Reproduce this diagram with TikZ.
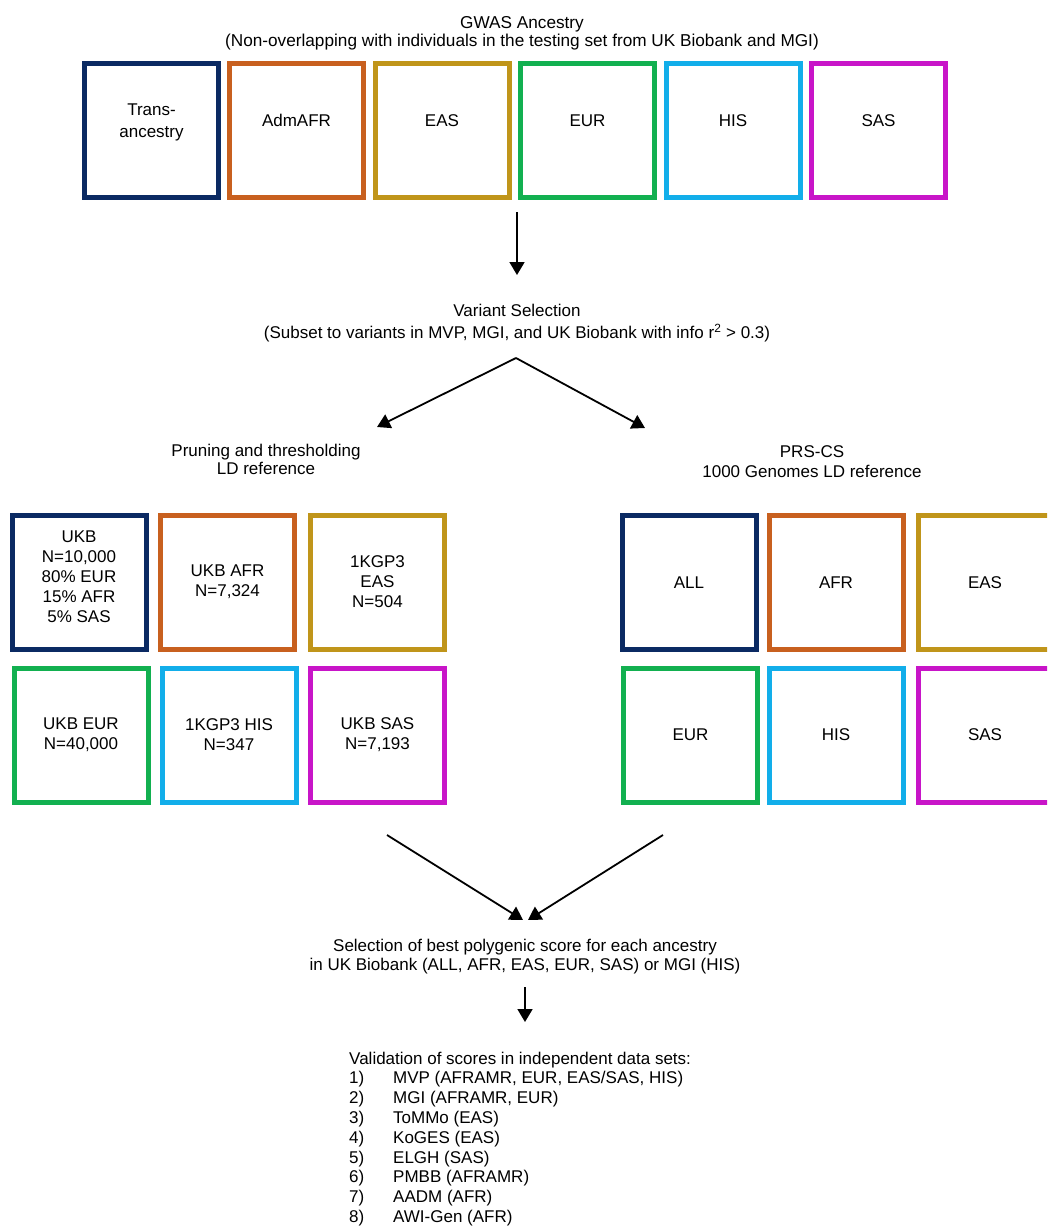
\documentclass[tikz,border=0pt]{standalone}
\usepackage{fontspec}
\setmainfont{Liberation Sans}
\usetikzlibrary{arrows.meta}
\definecolor{cnavy}{HTML}{0B2A63}
\definecolor{corange}{HTML}{C8601F}
\definecolor{cgold}{HTML}{C0951A}
\definecolor{cgreen}{HTML}{12B050}
\definecolor{csky}{HTML}{12AEEA}
\definecolor{cmag}{HTML}{C815C8}
\begin{document}
\begin{tikzpicture}[x=1pt,y=-1pt,
  box/.style={draw=#1, line width=5pt, minimum width=134pt, minimum height=134pt,
    inner sep=0pt, align=center, font=\fontsize{17}{20}\selectfont},
  lbl/.style={align=center, inner sep=0pt, anchor=north},
  arr/.style={line width=1.8pt, -{Triangle[width=15pt,length=13pt]}}]
\clip (0,0) rectangle (1047,1228);
\fill[white] (0,0) rectangle (1047,1228);

% title
\node[lbl, font=\fontsize{17.2}{18}\selectfont] (title) at (522,15.8)
  {GWAS Ancestry\\(Non-overlapping with individuals in the testing set from UK Biobank and MGI)};

% top row
\node[box=cnavy]   (g1) at (151.5,130.5) {};
\node[box=corange] (g2) at (296.5,130.5) {};
\node[box=cgold]   (g3) at (442,130.5) {};
\node[box=cgreen]  (g4) at (587.5,130.5) {};
\node[box=csky]    (g5) at (733,130.5) {};
\node[box=cmag]    (g6) at (878.5,130.5) {};
\node[align=center, inner sep=0pt, font=\fontsize{17}{22}\selectfont] (g1t) at ([yshift=8pt]g1.center) {Trans-\\ancestry};
\node[inner sep=0pt, font=\fontsize{17}{20}\selectfont] (g2t) at ([yshift=10pt]g2.center) {AdmAFR};
\node[inner sep=0pt, font=\fontsize{17}{20}\selectfont] (g3t) at ([yshift=10pt]g3.center) {EAS};
\node[inner sep=0pt, font=\fontsize{17}{20}\selectfont] (g4t) at ([yshift=10pt]g4.center) {EUR};
\node[inner sep=0pt, font=\fontsize{17}{20}\selectfont] (g5t) at ([yshift=10pt]g5.center) {HIS};
\node[inner sep=0pt, font=\fontsize{17}{20}\selectfont] (g6t) at ([yshift=10pt]g6.center) {SAS};

% variant selection
\node[lbl, font=\fontsize{17}{22}\selectfont] (var) at (517,303.8)
  {Variant Selection\\(Subset to variants in MVP, MGI, and UK Biobank with info r\textsuperscript{2} > 0.3)};

\node[lbl, font=\fontsize{17}{18}\selectfont] (pt) at (266,443.8)
  {Pruning and thresholding\\LD reference};
\node[lbl, font=\fontsize{17}{20}\selectfont] (prs) at (812,445.8)
  {PRS-CS\\1000 Genomes LD reference};

% left grid
\node[box=cnavy]   (l1) at (79,582)   {UKB\\N=10,000\\80\% EUR\\15\% AFR\\5\% SAS\\[-10pt]};
\node[box=corange] (l2) at (227.5,582) {UKB AFR\\N=7,324};
\node[box=cgold]   (l3) at (377.5,582) {1KGP3\\EAS\\N=504};
\node[box=cgreen]  (l4) at (81,735)   {UKB EUR\\N=40,000};
\node[box=csky]    (l5) at (229,735) {1KGP3 HIS\\N=347};
\node[box=cmag]    (l6) at (377.5,735) {UKB SAS\\N=7,193};

% right grid
\node[box=cnavy]   (r1) at (689,582.5) {ALL};
\node[box=corange] (r2) at (836,582.5) {AFR};
\node[box=cgold]   (r3) at (985,582.5) {EAS};
\node[box=cgreen]  (r4) at (690.5,735) {EUR};
\node[box=csky]    (r5) at (836,735) {HIS};
\node[box=cmag]    (r6) at (985,735) {SAS};

% selection
\node[lbl, font=\fontsize{17}{19}\selectfont] (sel) at (525,938.8)
  {Selection of best polygenic score for each ancestry\\in UK Biobank (ALL, AFR, EAS, EUR, SAS) or MGI (HIS)};

% validation list
\node[align=left, inner sep=0pt, anchor=north west, font=\fontsize{17}{19.8}\selectfont] (val) at (349,1051.5)
  {Validation of scores in independent data sets:\\
   \makebox[44pt][l]{1)}MVP (AFRAMR, EUR, EAS/SAS, HIS)\\
   \makebox[44pt][l]{2)}MGI (AFRAMR, EUR)\\
   \makebox[44pt][l]{3)}ToMMo (EAS)\\
   \makebox[44pt][l]{4)}KoGES (EAS)\\
   \makebox[44pt][l]{5)}ELGH (SAS)\\
   \makebox[44pt][l]{6)}PMBB (AFRAMR)\\
   \makebox[44pt][l]{7)}AADM (AFR)\\
   \makebox[44pt][l]{8)}AWI-Gen (AFR)};

% connector coordinates
\coordinate (a1s) at (517,212);
\coordinate (a1e) at (517,275);
\coordinate (split) at (516,358);
\coordinate (ptin) at (377,427);
\coordinate (prsin) at (645,428);
\coordinate (ptout) at (387,835);
\coordinate (prsout) at (663,835);
\coordinate (selinL) at (523,920);
\coordinate (selinR) at (528,920);
\coordinate (a6s) at (525,987);
\coordinate (a6e) at (525,1022);

\draw[arr] (a1s) -- (a1e);
\draw[arr] (split) -- (ptin);
\draw[arr] (split) -- (prsin);
\draw[arr] (ptout) -- (selinL);
\draw[arr] (prsout) -- (selinR);
\draw[arr] (a6s) -- (a6e);
\end{tikzpicture}
\end{document}
